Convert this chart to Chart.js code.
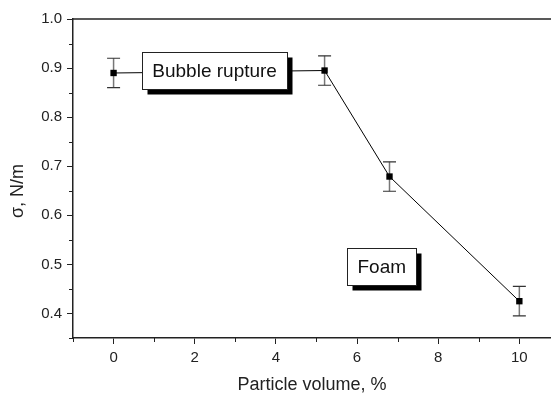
<!DOCTYPE html>
<html>
<head>
<meta charset="utf-8">
<script src="https://cdn.jsdelivr.net/npm/chart.js@4/dist/chart.umd.min.js"></script>
<style>
  body { margin: 0; background: #fff; }
  canvas { display: block; }
</style>
</head>
<body>
<canvas id="chart" width="551" height="394"></canvas>
<script>
// data
const particleVolume = [0, 5.2, 6.8, 10];
const tension = [0.89, 0.895, 0.679, 0.425];
const tensionError = [0.03, 0.03, 0.03, 0.03];

const xTicks = [0, 2, 4, 6, 8, 10];
const xMinorTicks = [-1, 1, 3, 5, 7, 9];
const yTicks = [0.4, 0.5, 0.6, 0.7, 0.8, 0.9, 1.0];
const yMinorTicks = [0.35, 0.45, 0.55, 0.65, 0.75, 0.85, 0.95];

const labelTexts = ['Bubble rupture', 'Foam'];
const labelX = [2.49, 6.61];
const labelY = [0.895, 0.495];

const FONT = '"Liberation Sans", Arial, sans-serif';
const AXIS_COLOR = '#222';

const errorBars = {
  id: 'errorBars',
  beforeDatasetsDraw(chart) {
    const ctx = chart.ctx;
    const xs = chart.scales.x;
    const ys = chart.scales.y;
    ctx.save();
    particleVolume.forEach((x, i) => {
      const px = xs.getPixelForValue(x);
      const top = ys.getPixelForValue(tension[i] + tensionError[i]);
      const bottom = ys.getPixelForValue(tension[i] - tensionError[i]);
      ctx.strokeStyle = '#777';
      ctx.lineWidth = 1.5;
      ctx.beginPath();
      ctx.moveTo(px, top);
      ctx.lineTo(px, bottom);
      ctx.stroke();
      ctx.strokeStyle = '#333';
      ctx.lineWidth = 1.2;
      ctx.beginPath();
      ctx.moveTo(px - 6.5, top);
      ctx.lineTo(px + 6.5, top);
      ctx.moveTo(px - 6.5, bottom);
      ctx.lineTo(px + 6.5, bottom);
      ctx.stroke();
    });
    ctx.restore();
  }
};

const frame = {
  id: 'frame',
  afterDraw(chart) {
    const ctx = chart.ctx;
    const area = chart.chartArea;
    const xs = chart.scales.x;
    const ys = chart.scales.y;
    ctx.save();
    ctx.strokeStyle = AXIS_COLOR;
    ctx.lineWidth = 1.5;
    // top line
    ctx.beginPath();
    ctx.moveTo(area.left, area.top);
    ctx.lineTo(area.right, area.top);
    ctx.stroke();
    // minor ticks
    ctx.lineWidth = 1;
    ctx.beginPath();
    xMinorTicks.forEach(v => {
      const px = Math.round(xs.getPixelForValue(v)) + 0.5;
      ctx.moveTo(px, area.bottom);
      ctx.lineTo(px, area.bottom + 4);
    });
    yMinorTicks.forEach(v => {
      const py = Math.round(ys.getPixelForValue(v)) + 0.5;
      ctx.moveTo(area.left, py);
      ctx.lineTo(area.left - 4, py);
    });
    ctx.stroke();

    // y axis title, rotated
    ctx.fillStyle = AXIS_COLOR;
    ctx.font = '18px ' + FONT;
    ctx.textAlign = 'center';
    ctx.textBaseline = 'middle';
    ctx.translate(18, 191);
    ctx.rotate(-Math.PI / 2);
    ctx.fillText('σ, N/m', 0, 0);
    ctx.restore();
  }
};

const boxes = {
  id: 'boxes',
  afterDatasetsDraw(chart) {
    const ctx = chart.ctx;
    const xs = chart.scales.x;
    const ys = chart.scales.y;
    ctx.save();
    ctx.font = '19px ' + FONT;
    ctx.textAlign = 'center';
    ctx.textBaseline = 'middle';
    labelTexts.forEach((text, i) => {
      const cx = xs.getPixelForValue(labelX[i]);
      const cy = ys.getPixelForValue(labelY[i]);
      const w = Math.round(ctx.measureText(text).width + 20);
      const h = 37;
      const left = Math.round(cx - w / 2) + 0.5;
      const top = Math.round(cy - h / 2) + 0.5;
      ctx.fillStyle = '#000';
      ctx.fillRect(left + 5, top + 5, w, h);
      ctx.fillStyle = '#fff';
      ctx.fillRect(left, top, w, h);
      ctx.strokeStyle = '#222';
      ctx.lineWidth = 1;
      ctx.strokeRect(left, top, w, h);
      ctx.fillStyle = '#111';
      ctx.fillText(text, cx, cy + 1);
    });
    ctx.restore();
  }
};

const ctx = document.getElementById('chart').getContext('2d');

new Chart(ctx, {
  type: 'line',
  data: {
    datasets: [{
      data: particleVolume.map((x, i) => ({ x: x, y: tension[i] })),
      borderColor: '#000',
      borderWidth: 1,
      backgroundColor: '#000',
      pointStyle: 'rect',
      pointRadius: 4.5,
      pointBorderWidth: 0,
      tension: 0
    }]
  },
  options: {
    responsive: false,
    animation: false,
    events: [],
    layout: { autoPadding: false, padding: { top: 19, right: 0, left: 0, bottom: 0 } },
    plugins: {
      legend: { display: false },
      tooltip: { enabled: false }
    },
    scales: {
      x: {
        type: 'linear',
        min: -1,
        max: 10.78,
        afterBuildTicks: axis => { axis.ticks = xTicks.map(v => ({ value: v })); },
        afterFit: axis => {
          axis.height = 56;
          axis.paddingLeft = 0;
          axis.paddingRight = 0;
        },
        grid: { drawOnChartArea: false, drawTicks: true, tickLength: 6, color: AXIS_COLOR, lineWidth: 1 },
        border: { display: true, color: AXIS_COLOR, width: 1.5 },
        ticks: {
          padding: 5,
          color: AXIS_COLOR,
          font: { family: FONT, size: 15 },
          maxRotation: 0,
          callback: v => String(v)
        },
        title: {
          display: true,
          text: 'Particle volume, %',
          color: AXIS_COLOR,
          font: { family: FONT, size: 18 },
          padding: { top: 0, bottom: -2 }
        }
      },
      y: {
        type: 'linear',
        min: 0.35,
        max: 1.0,
        afterBuildTicks: axis => { axis.ticks = yTicks.map(v => ({ value: v })); },
        afterFit: axis => { axis.width = 73; },
        grid: { drawOnChartArea: false, drawTicks: true, tickLength: 6, color: AXIS_COLOR, lineWidth: 1 },
        border: { display: true, color: AXIS_COLOR, width: 1.5 },
        ticks: {
          padding: 5,
          color: AXIS_COLOR,
          font: { family: FONT, size: 15 },
          callback: v => v.toFixed(1)
        }
      }
    }
  },
  plugins: [errorBars, boxes, frame]
});
</script>
</body>
</html>
